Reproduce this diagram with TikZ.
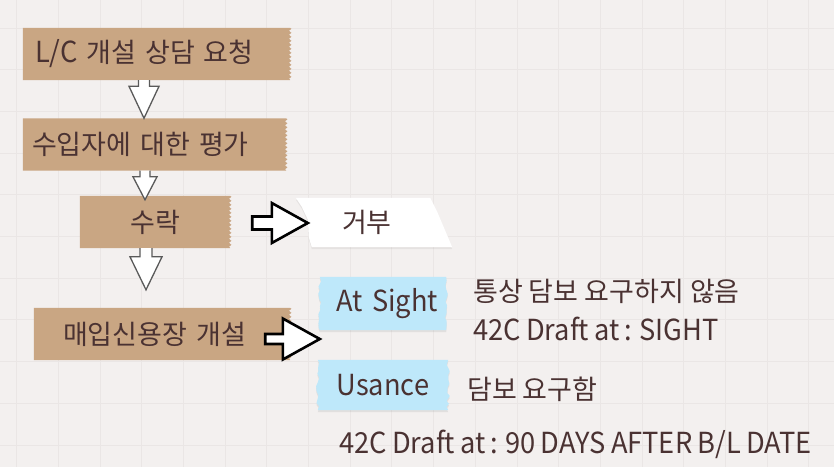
\documentclass[tikz,border=0pt]{standalone}
\usepackage{fontspec}
\setmainfont{Noto Sans CJK KR}
\newfontfamily\latinfont[FakeStretch=0.94, WordSpace=0.85]{Noto Sans CJK KR}
\newcommand{\lat}[1]{{\latinfont\fontsize{29}{32}\selectfont #1}}
\usetikzlibrary{calc,backgrounds,decorations.pathmorphing,shadows}

\definecolor{paper}{HTML}{F3F0EF}
\definecolor{gridline}{HTML}{EAE6E5}
\definecolor{tapetan}{HTML}{C9A683}
\definecolor{tapeblue}{HTML}{BEE8FA}
\definecolor{inkbrown}{HTML}{4A3232}
\definecolor{arrowgray}{HTML}{5A5A5A}

% block arrows: from, to, shaft half width, head half width, head length
\newcommand{\downblock}[5]{%
  \filldraw[downarrow] let \p1=(#1), \p2=(#2) in
    (\x1-#3,\y1) -- (\x1-#3,\y2+#5) -- (\x1-#4,\y2+#5) -- (\x1,\y2)
    -- (\x1+#4,\y2+#5) -- (\x1+#3,\y2+#5) -- (\x1+#3,\y1);}
\newcommand{\rightblock}[5]{%
  \filldraw[rightarrow] let \p1=(#1), \p2=(#2) in
    (\x1,\y1-#3) -- (\x2-#5,\y1-#3) -- (\x2-#5,\y1-#4) -- (\x2,\y1)
    -- (\x2-#5,\y1+#4) -- (\x2-#5,\y1+#3) -- (\x1,\y1+#3) -- cycle;}

\begin{document}
\begin{tikzpicture}[x=1pt, y=-1pt,
    every node/.style={text=inkbrown, font=\fontsize{27}{31}\selectfont},
    tape/.style={inner ysep=0pt, minimum height=52pt},
    note/.style={inner sep=0pt, anchor=west},
    downarrow/.style={draw=arrowgray, fill=white, line width=1.3pt, line join=miter},
    rightarrow/.style={draw=black, fill=white, line width=2.6pt, line join=miter},
    zig/.style={decoration={zigzag, segment length=4pt, amplitude=1.2pt}},
    torn/.style={decoration={random steps, segment length=4pt, amplitude=1.6pt}}]
  \pgfmathsetseed{7}
  \useasboundingbox (0,0) rectangle (834,467);

  % flow on the left
  \node[tape, text width=243pt, inner xsep=12pt, align=left] (lc) at (156.5,54) {\lat{L/C} 개설 상담 요청};
  \node[tape, text width=245pt, inner xsep=9pt, align=left] (eval) at (154.5,144.5) {수입자에 대한 평가};
  \node[tape, minimum width=150pt] (accept) at (155,222) {수락};
  \node[tape, text width=198pt, inner xsep=29pt, align=left] (open) at (162,334) {매입신용장 개설};

  % right side
  \node[tape, minimum height=49pt, text width=64pt, inner xsep=46pt, align=left] (reject) at (374,222.5) {거부};
  \node[tape, minimum height=53pt, text width=110pt, inner xsep=8pt, align=right] (sight) at (383,303.5) {\lat{At Sight}};
  \node[tape, minimum height=50pt, minimum width=130pt] (usance) at (383,385) {\lat{Usance}};

  \node[note] (sightnote) at (473,291) {통상 담보 요구하지 않음};
  \node[note] (sightdraft) at (473,329) {\lat{42C Draft at : SIGHT}};
  \node[note] (usancenote) at (467,389) {담보 요구함};
  \node[note] (usancedraft) at (339,444) {\lat{42C Draft at : 90 DAYS AFTER B/L DATE}};

  \begin{scope}[on background layer]
    \fill[paper] (0,0) rectangle (834,467);
    \foreach \i in {0,...,19}
      \draw[gridline, line width=0.9pt] ({16.6+41.7*\i},0) -- ++(0,467);
    \foreach \j in {0,...,11}
      \draw[gridline, line width=0.9pt] (0,{-13.7+41.7*\j}) -- ++(834,0);
    % tapes
    \foreach \n in {lc,eval,accept,open}
      \fill[tapetan] (\n.south west) -- (\n.north west) -- (\n.north east)
        decorate[zig] {-- (\n.south east)} -- cycle;
    \foreach \n in {sight,usance}
      \fill[tapeblue, drop shadow={opacity=0.15, shadow xshift=0pt, shadow yshift=-2pt}]
        (\n.north west) -- (\n.north east) decorate[torn] {-- (\n.south east)}
        -- (\n.south west) decorate[torn] {-- (\n.north west)} -- cycle;
    \fill[white, drop shadow={opacity=0.12, shadow xshift=0pt, shadow yshift=-2pt}]
      (reject.north west) -- ($(reject.north east)+(-22,0)$) -- ($(reject.north east)+(-15,14)$)
      -- (reject.south east) -- ($(reject.south west)+(16,0)$) -- ($(reject.south west)+(13,-10)$)
      -- ($(reject.west)+(12,-3)$) -- ($(reject.north west)+(6,9)$) -- cycle;
  \end{scope}

  % arrows
  \downblock{$(lc.south)+(-12.5,0)$}{eval.north}{5.5pt}{15pt}{32pt}
  \downblock{$(eval.south)+(-9.5,0)$}{$(accept.north)+(0,4)$}{5pt}{12pt}{23pt}
  \downblock{$(accept.south)+(-9,0)$}{$(open.north)+(0,-18)$}{6pt}{16pt}{33pt}
  \rightblock{$(accept.east)+(22,1)$}{$(reject.west)+(12,0)$}{6.5pt}{20pt}{36pt}
  \rightblock{$(open.east)+(-25,5)$}{sight.west}{5pt}{20.5pt}{37pt}
\end{tikzpicture}
\end{document}
